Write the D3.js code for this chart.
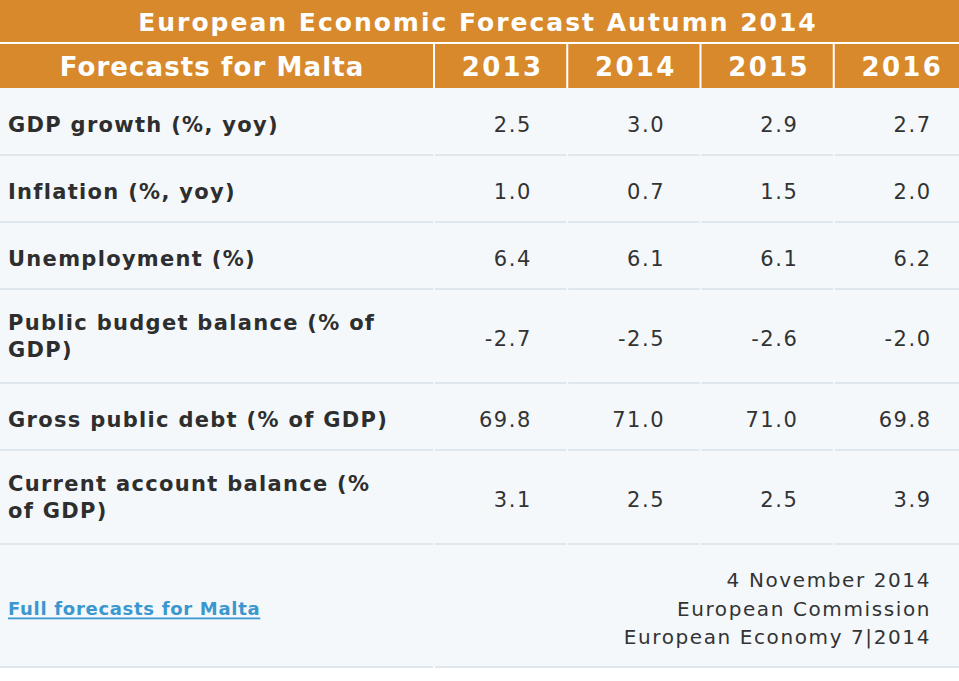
<!DOCTYPE html>
<html lang="en">
<head>
  <meta charset="UTF-8">
  <title>European Economic Forecast Autumn 2014 - Malta</title>
  <script src="https://d3js.org/d3.v7.min.js"></script>
  <style>
    body { margin: 0; background: #fff; }
    svg { display: block; }
    .label { font-family: "DejaVu Sans", Verdana, sans-serif; font-weight: bold; font-size: 21px; letter-spacing: 1.3px; fill: #2e2e2e; }
    .value { font-family: "DejaVu Sans", Verdana, sans-serif; font-size: 21px; letter-spacing: 1.5px; fill: #333; }
    .head { font-family: "DejaVu Sans", Verdana, sans-serif; font-weight: bold; fill: #fff; }
    .foot { font-family: "DejaVu Sans", Verdana, sans-serif; font-size: 20px; letter-spacing: 1.6px; fill: #333; }
    .link { font-family: "DejaVu Sans", Verdana, sans-serif; font-size: 18px; font-weight: bold; letter-spacing: 0.7px; fill: #3c97cf; text-decoration: underline; }
  </style>
</head>
<body>
  <div id="chart"></div>

  <script>
    // table content
    const title = "European Economic Forecast Autumn 2014";
    const headerLabel = "Forecasts for Malta";
    const years = ["2013", "2014", "2015", "2016"];
    const indicators = [
      ["GDP growth (%, yoy)"],
      ["Inflation (%, yoy)"],
      ["Unemployment (%)"],
      ["Public budget balance (% of", "GDP)"],
      ["Gross public debt (% of GDP)"],
      ["Current account balance (%", "of GDP)"]
    ];
    const gdpGrowth = [2.5, 3.0, 2.9, 2.7];
    const inflation = [1.0, 0.7, 1.5, 2.0];
    const unemployment = [6.4, 6.1, 6.1, 6.2];
    const budgetBalance = [-2.7, -2.5, -2.6, -2.0];
    const publicDebt = [69.8, 71.0, 71.0, 69.8];
    const currentAccount = [3.1, 2.5, 2.5, 3.9];
    const footLink = "Full forecasts for Malta";
    const footNotes = ["4 November 2014", "European Commission", "European Economy 7|2014"];

    const series = [gdpGrowth, inflation, unemployment, budgetBalance, publicDebt, currentAccount];

    const width = 959, height = 681;
    const orange = "#d8892b";
    const bodyBg = "#f4f8fb";
    const lineColor = "#dde7ed";
    const gap = 2;

    const titleH = 42, headerTop = 44, headerH = 44;
    const bodyTop = headerTop + headerH;
    const lineH = 27, baseRowH = 67, footH = 123;

    const svg = d3.select("#chart").append("svg")
      .attr("width", width)
      .attr("height", height);

    // columns: label column then one band per year
    const labelW = 433;
    const x = d3.scaleBand()
      .domain(years)
      .range([labelW + gap, 968])
      .paddingInner(0);

    // row offsets from number of label lines
    const rowH = indicators.map(d => baseRowH + (d.length - 1) * lineH);
    const rowTop = [];
    rowH.reduce((acc, h, i) => { rowTop[i] = acc; return acc + h; }, bodyTop);
    const footTop = rowTop[rowTop.length - 1] + rowH[rowH.length - 1];

    // body background
    svg.append("rect")
      .attr("x", 0).attr("y", bodyTop)
      .attr("width", width).attr("height", footTop + footH - bodyTop)
      .attr("fill", bodyBg);

    // title bar
    svg.append("rect")
      .attr("x", 0).attr("y", 0)
      .attr("width", width).attr("height", titleH)
      .attr("fill", orange);
    svg.append("text")
      .attr("class", "head")
      .attr("x", 478).attr("y", titleH / 2 + 1)
      .attr("text-anchor", "middle")
      .attr("dominant-baseline", "central")
      .style("font-size", "25px")
      .style("letter-spacing", "2px")
      .text(title);

    // header row
    svg.append("rect")
      .attr("x", 0).attr("y", headerTop)
      .attr("width", labelW).attr("height", headerH)
      .attr("fill", orange);
    svg.append("text")
      .attr("class", "head")
      .attr("x", 212).attr("y", headerTop + headerH / 2 + 1)
      .attr("text-anchor", "middle")
      .attr("dominant-baseline", "central")
      .style("font-size", "26px")
      .style("letter-spacing", "1.1px")
      .text(headerLabel);

    svg.selectAll(".yearcell")
      .data(years)
      .enter().append("rect")
      .attr("class", "yearcell")
      .attr("x", d => x(d))
      .attr("y", headerTop)
      .attr("width", x.bandwidth() - gap)
      .attr("height", headerH)
      .attr("fill", orange);

    svg.selectAll(".yeartext")
      .data(years)
      .enter().append("text")
      .attr("class", "head yeartext")
      .attr("x", d => x(d) + (x.bandwidth() - gap) / 2 + 2)
      .attr("y", headerTop + headerH / 2 + 1)
      .attr("text-anchor", "middle")
      .attr("dominant-baseline", "central")
      .style("font-size", "26px")
      .style("letter-spacing", "2.3px")
      .text(d => d);

    // row separators with gaps at column borders
    const cellSpans = [[0, labelW]].concat(years.map(y => [x(y), x(y) + x.bandwidth() - gap]));
    const sepYs = rowTop.slice(1).concat([footTop]);
    sepYs.forEach(yy => {
      svg.selectAll(null)
        .data(cellSpans)
        .enter().append("rect")
        .attr("x", d => d[0])
        .attr("y", yy - 1)
        .attr("width", d => d[1] - d[0])
        .attr("height", 2)
        .attr("fill", lineColor);
    });
    // bottom line of footer: label cell + one merged cell
    svg.selectAll(null)
      .data([[0, labelW], [labelW + gap, width]])
      .enter().append("rect")
      .attr("x", d => d[0])
      .attr("y", footTop + footH - 1)
      .attr("width", d => d[1] - d[0])
      .attr("height", 2)
      .attr("fill", lineColor);

    // indicator labels
    const rows = svg.selectAll(".row")
      .data(indicators)
      .enter().append("g")
      .attr("class", "row")
      .attr("transform", (d, i) => `translate(0,${rowTop[i] + rowH[i] / 2 + 3})`);

    rows.append("text")
      .attr("class", "label")
      .attr("x", 8)
      .attr("dominant-baseline", "central")
      .selectAll("tspan")
      .data(d => d.map((t, j) => ({ t, j, n: d.length })))
      .enter().append("tspan")
      .attr("x", 8)
      .attr("y", d => (d.j - (d.n - 1) / 2) * lineH - (d.n > 1 ? 3 : 0))
      .text(d => d.t);

    // values, right aligned in each year column
    rows.each(function(d, i) {
      d3.select(this).selectAll(".value")
        .data(series[i])
        .enter().append("text")
        .attr("class", "value")
        .attr("x", (v, k) => x(years[k]) + x.bandwidth() - 36.5)
        .attr("text-anchor", "end")
        .attr("dominant-baseline", "central")
        .text(v => v.toFixed(1));
    });

    // footer
    svg.append("text")
      .attr("class", "link")
      .attr("x", 8)
      .attr("y", footTop + 64)
      .attr("dominant-baseline", "central")
      .text(footLink);

    svg.append("text")
      .attr("class", "foot")
      .attr("text-anchor", "end")
      .selectAll("tspan")
      .data(footNotes)
      .enter().append("tspan")
      .attr("x", 931)
      .attr("y", (d, i) => footTop + 36 + i * 28.5)
      .attr("dominant-baseline", "central")
      .text(d => d);
  </script>
</body>
</html>
